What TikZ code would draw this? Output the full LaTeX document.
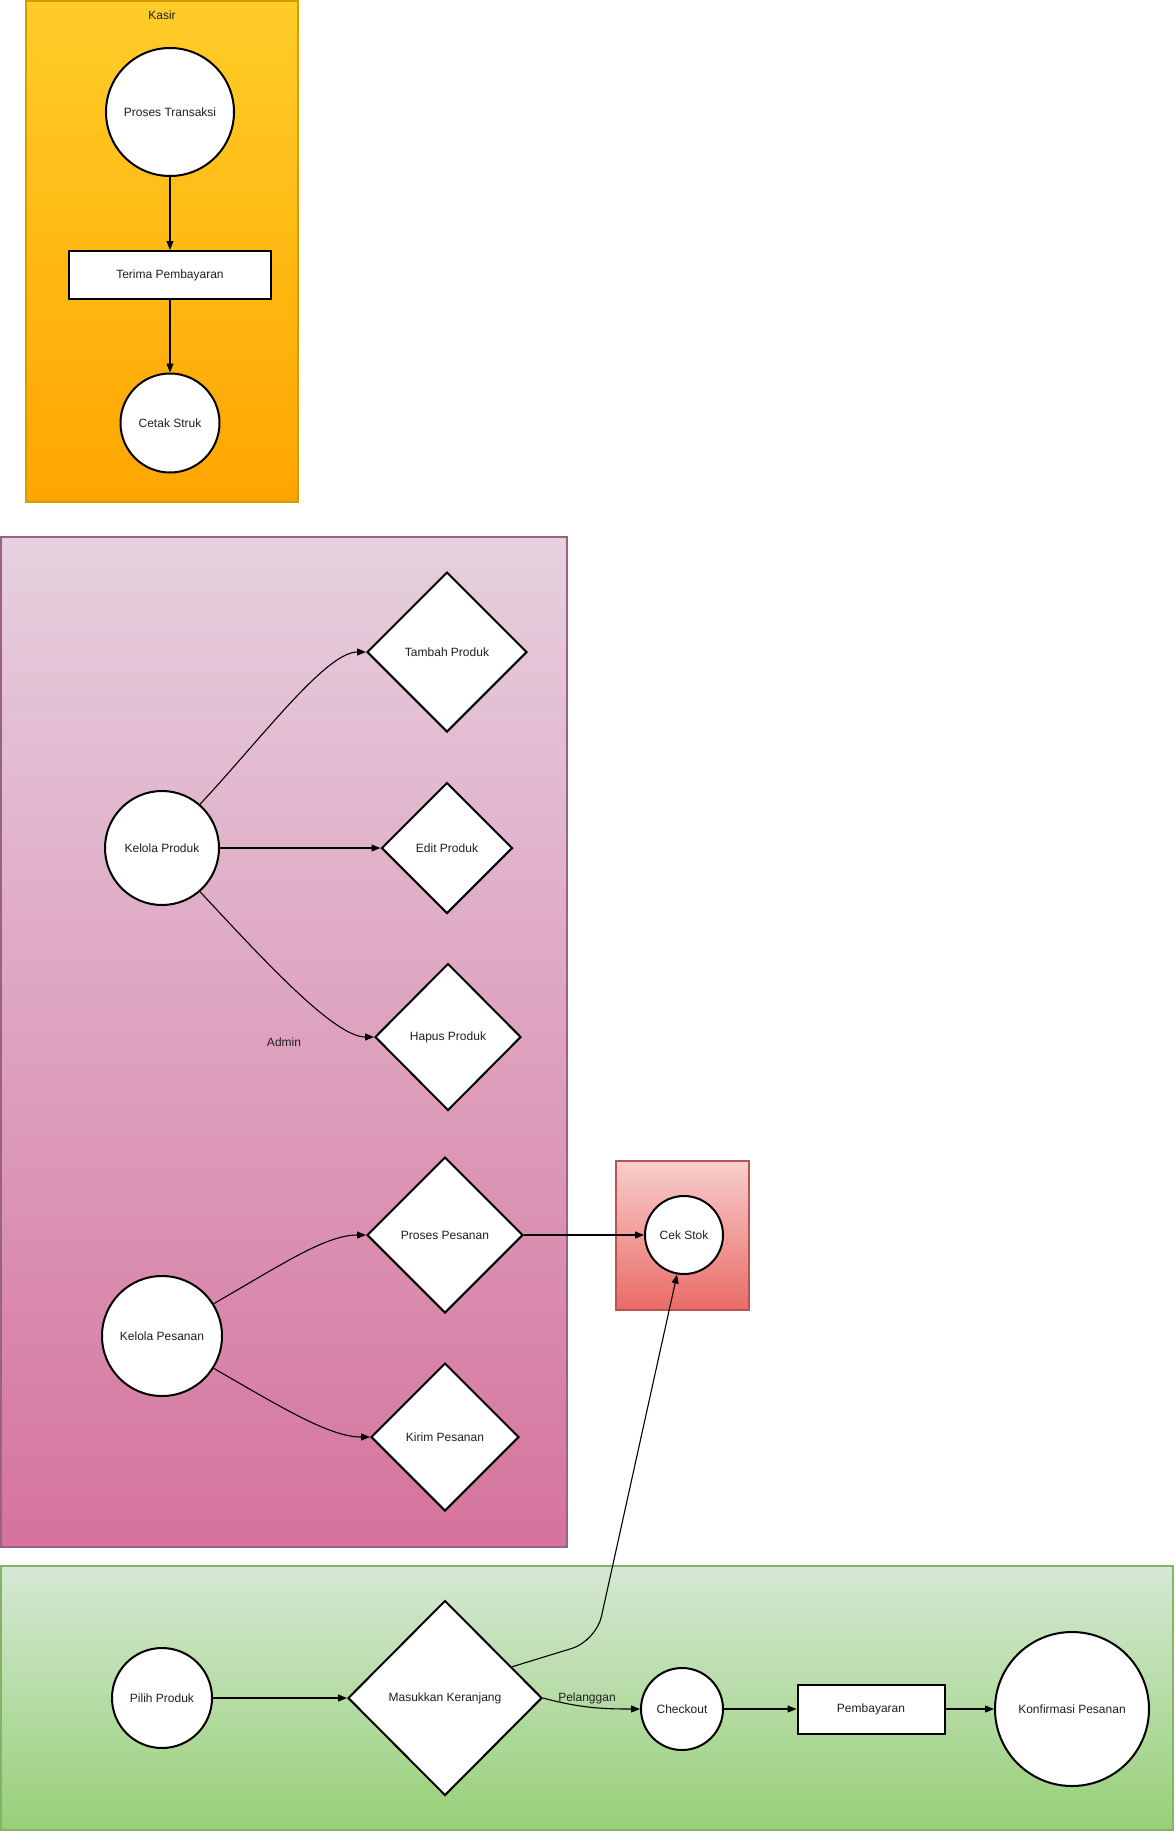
\documentclass[tikz,border=0pt]{standalone}
\usepackage{fontspec}
\setmainfont{Liberation Sans}
\usetikzlibrary{shapes.geometric,arrows.meta}
\definecolor{kasirtop}{HTML}{FFCD28}
\definecolor{kasirbot}{HTML}{FFA500}
\definecolor{kasirline}{HTML}{D79B00}
\definecolor{admintop}{HTML}{E6D0DE}
\definecolor{adminbot}{HTML}{D5739D}
\definecolor{adminline}{HTML}{996185}
\definecolor{stoktop}{HTML}{F8CECC}
\definecolor{stokbot}{HTML}{EA6B66}
\definecolor{stokline}{HTML}{B85450}
\definecolor{pelTop}{HTML}{D5E8D4}
\definecolor{pelBot}{HTML}{97D077}
\definecolor{pelLine}{HTML}{82B366}
\begin{document}
\begin{tikzpicture}[x=1pt,y=1pt,
  every node/.style={font=\fontsize{12}{14}\selectfont, text=black!88},
  circ/.style={circle,draw=black,line width=2pt,fill=white,inner sep=0pt},
  dia/.style={diamond,draw=black,line width=2pt,fill=white,inner sep=0pt},
  box/.style={rectangle,draw=black,line width=2pt,fill=white,inner sep=0pt},
  conn/.style={-{Triangle[length=9pt,width=7pt]},line width=1.1pt,draw=black},
  lane/.style={line width=1.5pt}]
\useasboundingbox (0,0) rectangle (1174,-1831);

% containers
\path[lane,draw=kasirline,top color=kasirtop,bottom color=kasirbot] (26,-1) rectangle (298,-502);
\path[lane,draw=adminline,top color=admintop,bottom color=adminbot] (1,-537) rectangle (567,-1547);
\path[lane,draw=stokline,top color=stoktop,bottom color=stokbot] (616,-1161) rectangle (749,-1310);
\path[lane,draw=pelLine,top color=pelTop,bottom color=pelBot] (1,-1566) rectangle (1173,-1830);

\node (kasirlbl) at (162,-15) {Kasir};
\node (adminlbl) at (284,-1042) {Admin};
\node (pellbl) at (587,-1698) {Pelanggan};

% Kasir
\node[circ,minimum size=128pt] (pt) at (170,-112) {Proses Transaksi};
\node[box,minimum width=202pt,minimum height=48pt] (tp) at (170,-275) {Terima Pembayaran};
\node[circ,minimum size=99pt] (cstruk) at (170,-423) {Cetak Struk};

% Admin
\node[circ,minimum size=114pt] (kprod) at (162,-848) {Kelola Produk};
\node[dia,minimum width=160pt,minimum height=160pt] (tamb) at (447,-652) {Tambah Produk};
\node[dia,minimum width=131pt,minimum height=131pt] (edit) at (447,-848) {Edit Produk};
\node[dia,minimum width=146pt,minimum height=147pt] (hapus) at (448,-1037) {Hapus Produk};
\node[circ,minimum size=120pt] (kpes) at (162,-1336) {Kelola Pesanan};
\node[dia,minimum width=156pt,minimum height=156pt] (ppes) at (445,-1235) {Proses Pesanan};
\node[dia,minimum width=148pt,minimum height=148pt] (kirim) at (445,-1437) {Kirim Pesanan};

% Cek stok
\node[circ,minimum size=78pt] (cstok) at (684,-1235) {Cek Stok};

% Pelanggan
\node[circ,minimum size=100pt] (pilih) at (162,-1698) {Pilih Produk};
\node[dia,minimum width=194pt,minimum height=195pt] (masuk) at (445,-1698) {Masukkan Keranjang};
\node[circ,minimum size=82pt] (chk) at (682,-1709) {Checkout};
\node[box,minimum width=147pt,minimum height=49pt] (bayar) at (871,-1709) {Pembayaran};
\node[circ,minimum size=154pt] (konf) at (1072,-1709) {Konfirmasi Pesanan};

\coordinate (bend) at (596,-1641);

% connectors
\draw[conn] (pt) -- (tp);
\draw[conn] (tp) -- (cstruk);
\draw[conn] (kprod.49) .. controls +(47:90) and +(-40,0) .. (tamb.west);
\draw[conn] (kprod.east) -- (edit.west);
\draw[conn] (kprod.-49) .. controls +(-47:90) and +(-40,0) .. (hapus.west);
\draw[conn] (kpes.32) .. controls +(30:80) and +(-40,0) .. (ppes.west);
\draw[conn] (kpes.-32) .. controls +(-30:80) and +(-40,0) .. (kirim.west);
\draw[conn] (ppes.east) -- (cstok.west);
\draw[conn] (pilih.east) -- (masuk.west);
\draw[conn,rounded corners=25pt] (masuk.25) -- (bend) -- (cstok.260);
\draw[conn] (masuk.east) to[out=-15,in=180] (chk.west);
\draw[conn] (chk.east) -- (bayar.west);
\draw[conn] (bayar.east) -- (konf.west);
\end{tikzpicture}
\end{document}
